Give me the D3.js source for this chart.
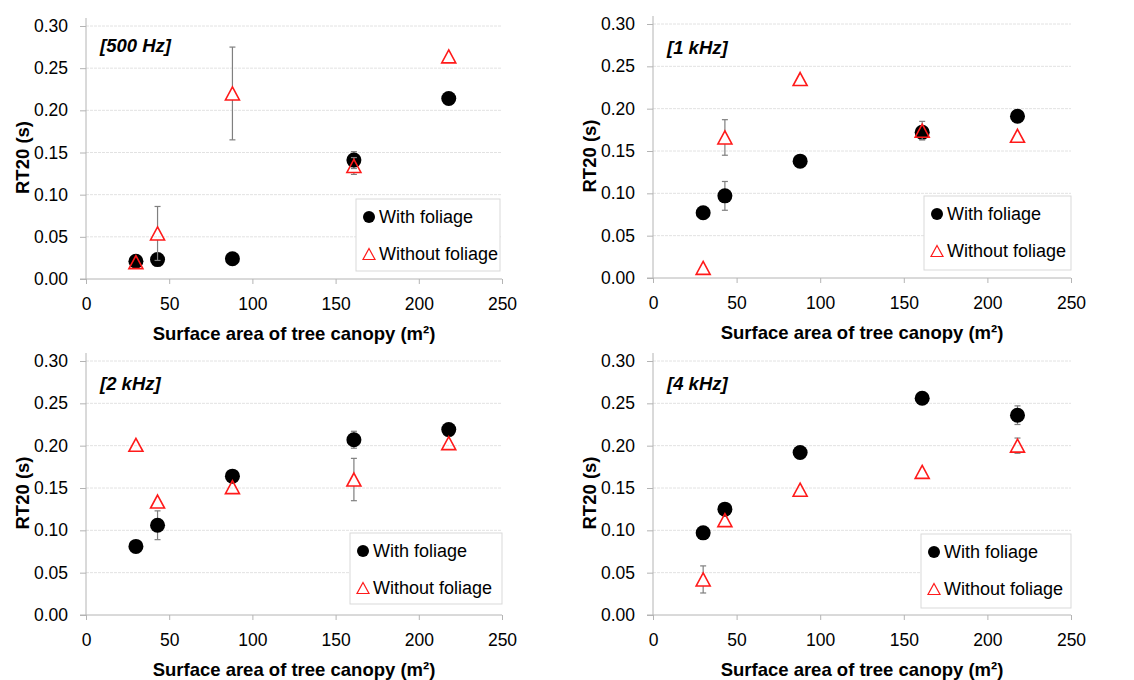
<!DOCTYPE html>
<html>
<head>
<meta charset="utf-8">
<script src="https://cdn.jsdelivr.net/npm/d3@7"></script>
<style>
  html, body { margin: 0; padding: 0; background: #fff; }
  svg { display: block; font-family: "Liberation Sans", Arial, sans-serif; }
</style>
</head>
<body>
<svg id="chart" width="1134" height="680"></svg>
<script>
// Canopy surface area of each tree (m²)
const canopyArea = [30, 43, 88, 161, 218];

// RT20 (s) per octave band, with and without foliage
const withFoliage500  = [0.021, 0.023, 0.024, 0.141, 0.214];
const withoutFoliage500 = [0.020, 0.054, 0.220, 0.134, 0.264];
const withFoliage1k   = [0.077, 0.097, 0.138, 0.172, 0.191];
const withoutFoliage1k  = [0.012, 0.166, 0.235, 0.174, 0.168];
const withFoliage2k   = [0.081, 0.106, 0.164, 0.207, 0.219];
const withoutFoliage2k  = [0.201, 0.134, 0.151, 0.160, 0.203];
const withFoliage4k   = [0.097, 0.125, 0.192, 0.256, 0.236];
const withoutFoliage4k  = [0.042, 0.112, 0.148, 0.169, 0.200];

// Standard errors (0 = no bar shown)
const errWith500    = [0, 0, 0, 0.010, 0];
const errWithout500 = [0, 0.032, 0.055, 0.010, 0];
const errWith1k     = [0, 0.017, 0, 0, 0];
const errWithout1k  = [0, 0.021, 0, 0.011, 0];
const errWith2k     = [0, 0.017, 0, 0.010, 0];
const errWithout2k  = [0, 0, 0, 0.025, 0];
const errWith4k     = [0, 0, 0, 0, 0.011];
const errWithout4k  = [0.016, 0, 0, 0, 0.009];

const bandLabels = ["[500 Hz]", "[1 kHz]", "[2 kHz]", "[4 kHz]"];
const seriesNames = ["With foliage", "Without foliage"];
const xTicks = [0, 50, 100, 150, 200, 250];
const yTicks = [0, 0.05, 0.10, 0.15, 0.20, 0.25, 0.30];
const xTitle = "Surface area of tree canopy (m²)";
const yTitle = "RT20 (s)";

const panels = [
  { label: bandLabels[0], w: withFoliage500, wo: withoutFoliage500, ew: errWith500, ewo: errWithout500,
    plot: { left: 86, right: 502, top: 26, bottom: 279 }, labelPos: [100, 52],
    legend: { x: 356, y: 199, w: 144, h: 72 } },
  { label: bandLabels[1], w: withFoliage1k, wo: withoutFoliage1k, ew: errWith1k, ewo: errWithout1k,
    plot: { left: 653, right: 1071, top: 24, bottom: 278 }, labelPos: [667, 54],
    legend: { x: 924, y: 196, w: 147, h: 74 } },
  { label: bandLabels[2], w: withFoliage2k, wo: withoutFoliage2k, ew: errWith2k, ewo: errWithout2k,
    plot: { left: 86, right: 502, top: 361, bottom: 615 }, labelPos: [100, 390],
    legend: { x: 350, y: 533, w: 152, h: 71 } },
  { label: bandLabels[3], w: withFoliage4k, wo: withoutFoliage4k, ew: errWith4k, ewo: errWithout4k,
    plot: { left: 653, right: 1071, top: 361, bottom: 615 }, labelPos: [667, 390],
    legend: { x: 921, y: 534, w: 150, h: 74 } }
];

const svg = d3.select("#chart");
const axisColor = "#b4b4b4";
const gridColor = "#e2e2e2";
const errColor = "#7f7f7f";
const red = "#ff1a1a";
const circleR = 7.5;
const triW = 14, triH = 13;

function triPath(w, h) {
  return `M0,${-h / 2}L${w / 2},${h / 2}L${-w / 2},${h / 2}Z`;
}

panels.forEach(p => {
  const g = svg.append("g");
  const x = d3.scaleLinear().domain([0, 250]).range([p.plot.left, p.plot.right]);
  const y = d3.scaleLinear().domain([0, 0.30]).range([p.plot.bottom, p.plot.top]);

  // horizontal gridlines
  g.append("g").selectAll("line").data(yTicks.slice(1)).join("line")
    .attr("x1", p.plot.left).attr("x2", p.plot.right)
    .attr("y1", d => y(d)).attr("y2", d => y(d))
    .attr("stroke", gridColor).attr("stroke-width", 1)
    .attr("stroke-dasharray", "3,1");

  // y axis
  const yAxis = d3.axisLeft(y).tickValues(yTicks).tickFormat(d3.format(".2f"))
    .tickSize(6).tickPadding(12);
  const ya = g.append("g").attr("transform", `translate(${p.plot.left},0)`).call(yAxis);
  ya.select(".domain").attr("stroke", axisColor).attr("d", `M0,${p.plot.top - 8}V${p.plot.bottom}`);
  ya.selectAll(".tick line").attr("stroke", axisColor);
  ya.selectAll(".tick text").attr("fill", "#000").style("font-size", "17.5px")
    .style("font-family", "'Liberation Sans', Arial, sans-serif");

  // x axis
  const xAxis = d3.axisBottom(x).tickValues(xTicks).tickSize(5).tickPadding(14);
  const xa = g.append("g").attr("transform", `translate(0,${p.plot.bottom})`).call(xAxis);
  xa.select(".domain").attr("stroke", axisColor).attr("d", `M${p.plot.left - 6},0H${p.plot.right}`);
  xa.selectAll(".tick line").attr("stroke", axisColor);
  xa.selectAll(".tick text").attr("fill", "#000").style("font-size", "17.5px")
    .style("font-family", "'Liberation Sans', Arial, sans-serif");

  // axis titles
  g.append("text")
    .attr("x", (p.plot.left + p.plot.right) / 2).attr("y", p.plot.bottom + 61)
    .attr("text-anchor", "middle").attr("font-weight", "bold").attr("font-size", "18.5px")
    .text(xTitle);
  const ycx = p.plot.left - 64, ycy = (p.plot.top + p.plot.bottom) / 2 + 5;
  g.append("text")
    .attr("transform", `translate(${ycx},${ycy}) rotate(-90)`)
    .attr("text-anchor", "middle").attr("dominant-baseline", "central")
    .attr("font-weight", "bold").attr("font-size", "18.5px")
    .text(yTitle);

  // frequency band label
  g.append("text")
    .attr("x", p.labelPos[0]).attr("y", p.labelPos[1])
    .attr("font-weight", "bold").attr("font-style", "italic").attr("font-size", "18.5px")
    .text(p.label);

  const withPts = canopyArea.map((a, i) => ({ a, v: p.w[i], e: p.ew[i] }));
  const withoutPts = canopyArea.map((a, i) => ({ a, v: p.wo[i], e: p.ewo[i] }));

  // error bars for the foliage series (hidden behind the filled circles)
  const ebW = g.append("g");
  withPts.filter(d => d.e > 0).forEach(d => {
    const cx = x(d.a), y1 = y(d.v + d.e), y0 = y(d.v - d.e);
    ebW.append("line").attr("x1", cx).attr("x2", cx).attr("y1", y1).attr("y2", y0)
      .attr("stroke", errColor).attr("stroke-width", 1.2);
    [y1, y0].forEach(yy => ebW.append("line").attr("x1", cx - 3).attr("x2", cx + 3)
      .attr("y1", yy).attr("y2", yy).attr("stroke", errColor).attr("stroke-width", 1.2));
  });

  g.append("g").selectAll("circle").data(withPts).join("circle")
    .attr("cx", d => x(d.a)).attr("cy", d => y(d.v)).attr("r", circleR)
    .attr("fill", "#000");

  // error bars for the bare series, broken around the hollow triangle
  const ebWo = g.append("g");
  withoutPts.filter(d => d.e > 0).forEach(d => {
    const cx = x(d.a), cy = y(d.v), y1 = y(d.v + d.e), y0 = y(d.v - d.e);
    ebWo.append("line").attr("x1", cx).attr("x2", cx).attr("y1", y1).attr("y2", Math.min(cy - triH / 2, y0))
      .attr("stroke", errColor).attr("stroke-width", 1.2);
    if (y0 > cy + triH / 2) {
      ebWo.append("line").attr("x1", cx).attr("x2", cx).attr("y1", cy + triH / 2).attr("y2", y0)
        .attr("stroke", errColor).attr("stroke-width", 1.2);
    }
    [y1, y0].forEach(yy => ebWo.append("line").attr("x1", cx - 3).attr("x2", cx + 3)
      .attr("y1", yy).attr("y2", yy).attr("stroke", errColor).attr("stroke-width", 1.2));
  });

  g.append("g").selectAll("path").data(withoutPts).join("path")
    .attr("d", triPath(triW, triH))
    .attr("transform", d => `translate(${x(d.a)},${y(d.v)})`)
    .attr("fill", "none").attr("stroke", red).attr("stroke-width", 1.6)
    .attr("stroke-linejoin", "miter");

  // legend
  const L = p.legend;
  const lg = g.append("g");
  lg.append("rect").attr("x", L.x).attr("y", L.y).attr("width", L.w).attr("height", L.h)
    .attr("fill", "#fff").attr("stroke", "#d9d9d9").attr("stroke-width", 1);
  lg.append("circle").attr("cx", L.x + 13).attr("cy", L.y + 18).attr("r", 6).attr("fill", "#000");
  lg.append("path").attr("d", triPath(12, 11))
    .attr("transform", `translate(${L.x + 13},${L.y + 55})`)
    .attr("fill", "none").attr("stroke", red).attr("stroke-width", 1.2);
  lg.selectAll("text.lt").data(seriesNames).join("text").attr("class", "lt")
    .attr("x", L.x + 23).attr("y", (d, i) => L.y + (i === 0 ? 18 : 55))
    .attr("dominant-baseline", "central").attr("font-size", "18px")
    .text(d => d);
});
</script>
</body>
</html>
